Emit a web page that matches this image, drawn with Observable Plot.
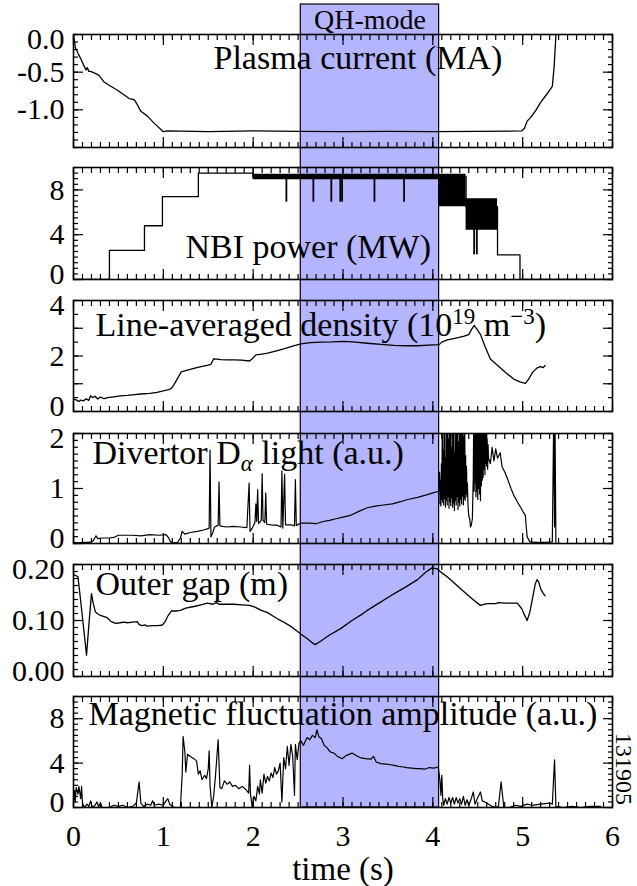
<!DOCTYPE html>
<html><head><meta charset="utf-8">
<script src="https://cdn.jsdelivr.net/npm/d3@7"></script>
<script src="https://cdn.jsdelivr.net/npm/@observablehq/plot@0.6"></script>
<style>
body{margin:0;background:#fff;}
#wrap{position:relative;width:637px;height:886px;}
#wrap svg{position:absolute;left:0;top:0;}
</style></head><body><div id="wrap"></div>
<script>
// ---------------- data ----------------
const qhStart = 2.53, qhEnd = 4.07;
const qhLabel = "QH-mode";
const xMajor = [0,1,2,3,4,5,6];
const xLabel = "time (s)";
const shotNumber = "131905";

const titleIp = [["Plasma current (MA)", ""]];
const titleNbi = [["NBI power (MW)", ""]];
const titleDens = [["Line-averaged density (10", ""], ["19", "sup"], [" m", ""], ["\u22123", "sup"], [")", ""]];
const titleDa = [["Divertor D", ""], ["\u03b1", "sub"], [" light (a.u.)", ""]];
const titleGap = [["Outer gap (m)", ""]];
const titleMag = [["Magnetic fluctuation amplitude (a.u.)", ""]];

const ipLabels = [-1.0, -0.5, 0.0];
const nbiLabels = [0, 4, 8];
const densLabels = [0, 2, 4];
const daLabels = [0, 1, 2];
const gapLabels = [0.0, 0.1, 0.2];
const magLabels = [0, 4, 8];

const plasmaCurrent = [[0,-0.01],[0.01,-0.08],[0.02,-0.17],[0.05,-0.25],[0.08,-0.32],[0.11,-0.40],[0.14,-0.47],[0.155,-0.44],[0.17,-0.49],[0.19,-0.49],[0.23,-0.51],[0.28,-0.54],[0.34,-0.63],[0.42,-0.69],[0.49,-0.74],[0.56,-0.80],[0.62,-0.85],[0.66,-0.86],[0.68,-0.87],[0.70,-0.91],[0.75,-1.02],[0.82,-1.08],[0.90,-1.18],[1.00,-1.29],[1.05,-1.28],[1.5,-1.29],[2.0,-1.28],[2.5,-1.285],[3.0,-1.29],[3.5,-1.285],[4.0,-1.29],[4.5,-1.285],[4.99,-1.28],[5.02,-1.245],[5.05,-1.15],[5.09,-1.10],[5.15,-1.00],[5.20,-0.90],[5.27,-0.79],[5.33,-0.69],[5.35,-0.43],[5.37,-0.01]];

const nbiSteps = [[0,0],[0.40,2.6],[0.79,4.8],[0.99,7.4],[1.39,9.5],[2.0,9.2],[4.07,9.2],[4.37,6.5],[4.72,2.2],[4.97,0],[6.0,0]];
const nbiBand = [[2.0,8.9,9.4],[4.07,6.5,9.4],[4.37,4.4,7.2],[4.72,4.4,7.2]];
const nbiSpikes = [[2.37,6.9,9.0],[2.67,6.9,9.0],[2.87,6.9,9.0],[2.97,6.9,9.0],[2.99,6.9,9.0],[3.35,6.9,9.0],[3.68,6.9,9.0],[4.46,2.2,4.5],[4.49,2.2,4.5]];

const density = [[0,0.45],[0.03,0.42],[0.06,0.36],[0.08,0.41],[0.11,0.38],[0.14,0.46],[0.17,0.40],[0.19,0.57],[0.21,0.50],[0.24,0.55],[0.27,0.45],[0.30,0.52],[0.34,0.46],[0.38,0.50],[0.45,0.53],[0.52,0.56],[0.60,0.58],[0.68,0.61],[0.75,0.63],[0.85,0.65],[0.93,0.69],[1.00,0.74],[1.06,0.79],[1.09,0.83],[1.12,0.98],[1.16,1.20],[1.20,1.43],[1.27,1.49],[1.34,1.55],[1.42,1.62],[1.50,1.67],[1.53,1.70],[1.56,1.90],[1.60,1.89],[1.64,1.87],[1.72,1.86],[1.79,1.86],[1.87,1.85],[1.96,1.82],[1.99,1.90],[2.03,2.04],[2.10,2.07],[2.16,2.10],[2.25,2.18],[2.34,2.26],[2.44,2.36],[2.53,2.44],[2.64,2.48],[2.75,2.50],[2.88,2.51],[3.01,2.53],[3.14,2.50],[3.27,2.46],[3.42,2.42],[3.57,2.38],[3.70,2.37],[3.83,2.37],[3.95,2.39],[4.07,2.41],[4.10,2.50],[4.16,2.58],[4.22,2.62],[4.29,2.67],[4.35,2.72],[4.40,2.77],[4.43,2.95],[4.46,3.10],[4.50,2.92],[4.53,2.78],[4.58,2.35],[4.64,1.89],[4.70,1.72],[4.75,1.58],[4.82,1.38],[4.90,1.17],[4.97,1.07],[5.03,1.01],[5.07,1.18],[5.11,1.41],[5.16,1.57],[5.20,1.62],[5.23,1.58],[5.25,1.66]];

const dalpha = [[0,0.02],[0.05,0.01],[0.12,0.02],[0.18,0.02],[0.22,0.05],[0.25,0.14],[0.27,0.09],[0.32,0.10],[0.40,0.10],[0.45,0.11],[0.50,0.15],[0.56,0.15],[0.65,0.15],[0.75,0.14],[0.85,0.16],[0.95,0.15],[1.03,0.16],[1.06,0.10],[1.08,0.03],[1.12,0.01],[1.16,0.02],[1.19,0.10],[1.21,0.22],[1.24,0.17],[1.30,0.20],[1.38,0.22],[1.46,0.25],[1.51,0.28],[1.52,1.70],[1.53,0.12],[1.55,0.20],[1.57,0.30],[1.61,0.33],[1.62,1.12],[1.63,0.32],[1.70,0.30],[1.78,0.31],[1.86,0.30],[1.93,0.29],[1.955,1.10],[1.965,0.22],[1.99,0.28],[2.02,0.38],[2.03,0.72],[2.04,0.40],[2.05,0.98],[2.06,0.36],[2.09,0.42],[2.10,1.27],[2.11,0.42],[2.13,0.38],[2.14,0.92],[2.15,0.35],[2.20,0.34],[2.27,0.33],[2.31,0.30],[2.32,1.32],[2.33,0.28],[2.35,1.26],[2.36,0.34],[2.42,0.34],[2.46,0.32],[2.47,1.16],[2.48,0.33],[2.53,0.37],[2.62,0.37],[2.70,0.36],[2.78,0.40],[2.85,0.42],[2.92,0.45],[3.00,0.48],[3.08,0.51],[3.17,0.58],[3.27,0.65],[3.36,0.68],[3.45,0.70],[3.55,0.72],[3.64,0.76],[3.72,0.80],[3.83,0.84],[3.92,0.88],[4.00,0.92],
[4.070,0.95],[4.075,1.30],[4.080,0.72],[4.085,1.15],[4.090,0.68],[4.095,1.45],[4.100,0.80],[4.105,2.2],[4.110,0.75],[4.115,1.70],[4.120,0.70],[4.125,2.2],[4.130,0.82],[4.135,2.2],[4.140,0.66],[4.145,1.55],[4.150,0.78],[4.155,2.2],[4.160,0.70],[4.165,2.2],[4.170,0.85],[4.175,1.90],[4.180,0.64],[4.185,2.2],[4.190,0.76],[4.195,2.2],[4.200,0.69],[4.205,1.75],[4.210,0.83],[4.215,2.2],[4.220,0.66],[4.225,2.2],[4.230,0.74],[4.235,2.2],[4.240,0.60],[4.245,1.65],[4.250,0.78],[4.255,2.2],[4.260,0.70],[4.265,2.2],[4.270,0.85],[4.275,2.2],[4.280,0.62],[4.285,1.85],[4.290,0.75],[4.295,2.2],[4.300,0.68],[4.305,2.2],[4.310,0.80],[4.315,2.2],[4.320,0.72],[4.325,2.2],[4.330,0.86],[4.335,2.2],[4.340,0.70],[4.345,1.95],[4.350,0.82],[4.355,2.2],[4.360,0.78],[4.365,1.60],[4.370,0.90],[4.375,1.40],[4.380,0.85],[4.385,1.10],[4.390,0.75],[4.395,0.60],[4.400,0.50],[4.41,0.45],[4.42,0.30],[4.43,0.35],[4.44,0.45],[4.45,1.20],
[4.455,2.2],[4.460,0.95],[4.465,2.2],[4.470,1.10],[4.475,2.2],[4.480,0.85],[4.485,2.2],[4.490,0.95],[4.495,2.2],[4.500,0.80],[4.505,2.2],[4.510,1.00],[4.515,2.2],[4.520,0.90],[4.525,2.2],[4.530,0.78],[4.535,2.2],[4.540,1.05],[4.545,2.2],[4.550,1.15],[4.555,2.2],[4.560,1.20],[4.565,2.2],[4.570,1.35],[4.575,2.2],[4.580,1.25],[4.585,2.1],[4.590,1.45],[4.595,2.2],[4.600,1.40],[4.605,1.90],[4.610,1.35],[4.615,1.80],[4.620,1.55],
[4.64,1.45],[4.66,1.75],[4.68,1.50],[4.70,1.72],[4.72,1.55],[4.75,1.65],[4.77,1.40],[4.80,1.30],[4.83,1.18],[4.87,1.00],[4.90,0.88],[4.94,0.76],[4.98,0.65],[5.01,0.56],[5.03,0.51],[5.04,0.30],[5.05,0.12],[5.08,0.03],[5.15,0.02],[5.25,0.02],[5.33,0.03],[5.345,2.2],[5.355,0.30],[5.36,2.2],[5.37,0.02]];

const outerGap = [[0,0.182],[0.03,0.180],[0.05,0.178],[0.09,0.12],[0.145,0.038],[0.17,0.09],[0.20,0.148],[0.22,0.13],[0.245,0.115],[0.27,0.112],[0.30,0.109],[0.34,0.107],[0.375,0.105],[0.42,0.098],[0.47,0.095],[0.52,0.096],[0.56,0.097],[0.60,0.096],[0.66,0.097],[0.71,0.098],[0.73,0.093],[0.76,0.091],[0.80,0.092],[0.82,0.090],[0.88,0.091],[0.94,0.091],[0.99,0.092],[1.02,0.098],[1.05,0.108],[1.09,0.117],[1.15,0.117],[1.19,0.118],[1.25,0.122],[1.34,0.125],[1.42,0.128],[1.49,0.131],[1.55,0.129],[1.59,0.132],[1.62,0.129],[1.70,0.129],[1.78,0.129],[1.88,0.128],[1.96,0.127],[2.02,0.124],[2.09,0.118],[2.16,0.114],[2.22,0.108],[2.27,0.103],[2.34,0.097],[2.42,0.0895],[2.48,0.082],[2.53,0.076],[2.60,0.068],[2.66,0.060],[2.69,0.057],[2.75,0.063],[2.85,0.074],[2.97,0.085],[3.10,0.100],[3.20,0.110],[3.27,0.118],[3.40,0.131],[3.50,0.141],[3.57,0.148],[3.70,0.160],[3.83,0.173],[3.92,0.186],[3.99,0.194],[4.05,0.192],[4.10,0.185],[4.16,0.178],[4.25,0.165],[4.35,0.151],[4.45,0.137],[4.53,0.127],[4.60,0.130],[4.70,0.130],[4.73,0.132],[4.80,0.131],[4.94,0.131],[4.99,0.121],[5.02,0.110],[5.05,0.100],[5.08,0.115],[5.11,0.140],[5.14,0.165],[5.16,0.173],[5.18,0.168],[5.20,0.157],[5.23,0.148],[5.25,0.144]];

const magnetic = [[0,0.3],[0.01,1.5],[0.02,0.5],[0.03,1.8],[0.05,1.2],[0.06,1.9],[0.08,0.8],[0.09,1.9],[0.10,0.4],[0.12,0.0],[0.15,0.3],[0.17,0.1],[0.19,0.6],[0.21,0.0],[0.24,0.2],[0.26,0.5],[0.28,0.1],[0.30,0.4],[0.32,0.0],[0.40,0.0],[0.45,0.2],[0.50,0.1],[0.55,0.2],[0.60,0.0],[0.66,0.1],[0.70,0.4],[0.73,2.3],[0.75,0.4],[0.78,0.1],[0.82,0.3],[0.86,0.2],[0.88,0.6],[0.90,0.2],[0.95,0.3],[1.00,0.2],[1.03,0.6],[1.05,0.8],[1.07,0.3],[1.12,0.0],[1.19,0.0],[1.21,3.0],[1.22,6.4],[1.24,5.0],[1.25,3.2],[1.27,4.8],[1.30,4.6],[1.34,4.4],[1.37,4.2],[1.39,3.0],[1.41,3.3],[1.43,2.5],[1.46,2.9],[1.48,2.6],[1.50,3.5],[1.51,5.1],[1.52,2.0],[1.54,0.0],[1.56,1.0],[1.58,2.8],[1.61,6.1],[1.63,1.8],[1.65,1.7],[1.68,2.4],[1.71,2.1],[1.74,2.3],[1.77,1.9],[1.80,2.0],[1.84,1.7],[1.88,1.9],[1.92,1.6],[1.95,1.3],[1.96,3.8],[1.97,1.2],[1.99,0.0],[2.01,1.0],[2.03,0.6],[2.05,1.9],[2.07,1.2],[2.08,2.5],[2.10,1.3],[2.12,3.0],[2.14,2.2],[2.16,2.8],[2.18,2.4],[2.20,3.1],[2.22,2.7],[2.24,3.6],[2.26,3.0],[2.28,3.3],[2.30,4.0],[2.32,0.5],[2.34,4.5],[2.36,3.5],[2.38,5.5],[2.40,3.8],[2.42,5.7],[2.44,4.6],[2.46,1.1],[2.47,5.7],[2.49,4.3],[2.51,5.8],[2.53,6.0],[2.56,5.6],[2.60,6.3],[2.63,6.1],[2.66,6.5],[2.69,6.3],[2.71,7.0],[2.73,6.4],[2.76,6.2],[2.79,5.6],[2.82,5.4],[2.86,5.0],[2.90,4.9],[2.94,4.6],[2.99,4.4],[3.04,4.7],[3.10,4.9],[3.14,4.7],[3.19,4.5],[3.25,4.4],[3.31,4.35],[3.34,4.6],[3.37,4.1],[3.42,3.95],[3.48,3.9],[3.53,3.85],[3.57,3.8],[3.62,3.7],[3.67,3.65],[3.71,3.6],[3.76,3.55],[3.82,3.5],[3.86,3.5],[3.91,3.45],[3.96,3.6],[4.01,3.55],[4.06,3.65],[4.08,2.4],[4.09,1.1],[4.10,2.9],[4.11,0.8],[4.12,0.2],[4.14,0.8],[4.16,0.3],[4.18,0.9],[4.20,0.4],[4.22,0.9],[4.24,0.3],[4.26,0.9],[4.28,0.4],[4.30,0.8],[4.32,0.3],[4.34,1.0],[4.36,0.2],[4.38,0.7],[4.40,0.2],[4.42,0.6],[4.45,1.4],[4.47,0.3],[4.50,0.9],[4.53,1.4],[4.55,0.6],[4.58,0.5],[4.62,0.3],[4.66,0.1],[4.70,0.0],[4.73,0.1],[4.76,2.3],[4.79,0.0],[4.85,0.0],[4.92,0.2],[4.98,0.1],[5.05,0.3],[5.10,0.2],[5.20,0.3],[5.30,0.4],[5.33,0.3],[5.355,4.3],[5.37,0.1],[5.45,0.0],[5.55,0.1],[5.65,0.0],[5.75,0.1],[5.87,0.1]];

// ---------------- layout ----------------
const W = 637, H = 886, ML = 73, MR = 25;
const panelTop = [34, 167, 300, 433, 564, 696];
const panelBottom = [147, 279, 411, 543, 676, 807];
const FONT = '"Liberation Serif", "Times New Roman", serif';
const BAND = "#b4b4ff";
const xMinor = d3.range(0, 6.0001, 0.1);
const wrap = document.getElementById("wrap");
const X = d => d[0], Y = d => d[1];

function richText(svg, parts) {
  const plain = parts.map(p => p[0]).join("");
  d3.select(svg).selectAll("text").filter(function(){ return this.textContent === plain; }).each(function(){
    const t = d3.select(this); t.text("");
    let shift = 0;
    for (const [s, kind] of parts) {
      const target = kind === "sup" ? -12 : kind === "sub" ? 7 : 0;
      const span = t.append("tspan").text(s).attr("dy", target - shift);
      if (kind) span.attr("font-size", 23);
      if (kind === "sub") span.attr("font-style", "italic");
      shift = target;
    }
  });
}

// background: QH-mode band
const bg = Plot.plot({
  width: W, height: H, marginLeft: ML, marginRight: MR, marginTop: 4, marginBottom: H - panelBottom[5],
  x: {domain: [0, 6], axis: null}, y: {domain: [0, 1], axis: null},
  style: {fontFamily: FONT, background: "transparent", overflow: "visible"},
  marks: [
    Plot.rect([[qhStart, qhEnd]], {x1: d => d[0], x2: d => d[1], fill: BAND, stroke: "black", strokeWidth: 1.2}),
    Plot.text([qhLabel], {x: () => (qhStart + qhEnd) / 2, text: d => d, frameAnchor: "top", lineAnchor: "middle", dy: 16, fontSize: 28, fill: "black"})
  ]
});
wrap.appendChild(bg);

function panel(i, cfg) {
  const [lo, hi] = cfg.domain;
  const minors = d3.range(lo, hi + cfg.minorStep / 2, cfg.minorStep);
  const tk = {fill: "none", label: null, strokeWidth: 1.2};
  const lab = {tickSize: 0, tickPadding: 9, fontSize: 30, label: null, tickFormat: cfg.fmt, anchor: "left"};
  const eps = (hi - lo) * 1e-6;
  const marks = [
    Plot.axisX(xMinor, {anchor: "bottom", tickSize: -5, ...tk}),
    Plot.axisX(xMajor, {anchor: "bottom", tickSize: -10, ...tk}),
    Plot.axisX(xMinor, {anchor: "top", tickSize: -5, ...tk}),
    Plot.axisX(xMajor, {anchor: "top", tickSize: -10, ...tk}),
    Plot.axisY(minors, {anchor: "left", tickSize: -5, ...tk}),
    Plot.axisY(cfg.majors, {anchor: "left", tickSize: -10, ...tk}),
    Plot.axisY(minors, {anchor: "right", tickSize: -5, ...tk}),
    Plot.axisY(cfg.majors, {anchor: "right", tickSize: -10, ...tk}),
    Plot.axisY(cfg.labels.filter(v => Math.abs(v - hi) < eps), {...lab, dy: 5}),
    Plot.axisY(cfg.labels.filter(v => Math.abs(v - lo) < eps), {...lab, dy: -5}),
    Plot.axisY(cfg.labels.filter(v => Math.abs(v - hi) >= eps && Math.abs(v - lo) >= eps), lab),
    ...cfg.marks,
    Plot.frame({stroke: "black", strokeWidth: 1.6}),
    Plot.text([cfg.title.map(p => p[0]).join("")], {text: d => d, frameAnchor: "top-left", textAnchor: "start", lineAnchor: "middle", dx: cfg.tdx, dy: cfg.tdy, fontSize: 34, fill: "black"}),
    ...(cfg.extra || [])
  ];
  const svg = Plot.plot({
    width: W, height: H, marginLeft: ML, marginRight: MR,
    marginTop: panelTop[i], marginBottom: H - panelBottom[i],
    x: {domain: [0, 6], axis: null}, y: {domain: cfg.domain, axis: null},
    style: {fontFamily: FONT, background: "transparent", overflow: "visible", color: "black"},
    marks
  });
  richText(svg, cfg.title);
  wrap.appendChild(svg);
}

const lineOpts = {x: X, y: Y, stroke: "black", strokeWidth: 1.3, clip: true};

panel(0, {domain: [-1.5, 0], majors: [-1.5, -1, -0.5, 0], minorStep: 0.1, labels: ipLabels, fmt: d => d.toFixed(1),
  title: titleIp, tdx: 140, tdy: 24, marks: [Plot.line(plasmaCurrent, lineOpts)]});

panel(1, {domain: [0, 10], majors: [0, 4, 8], minorStep: 0.5, labels: nbiLabels, fmt: d => String(d),
  title: titleNbi, tdx: 112, tdy: 80, marks: [
    Plot.areaY(nbiBand, {x: d => d[0], y1: d => d[1], y2: d => d[2], curve: "step-after", fill: "black"}),
    Plot.line(nbiSteps, {...lineOpts, curve: "step-after"}),
    Plot.ruleX(nbiSpikes, {x: d => d[0], y1: d => d[1], y2: d => d[2], stroke: "black", strokeWidth: 1.8})
  ]});

panel(2, {domain: [0, 4], majors: [0, 1, 2, 3, 4], minorStep: 0.5, labels: densLabels, fmt: d => String(d),
  title: titleDens, tdx: 22, tdy: 25, marks: [Plot.line(density, lineOpts)]});

panel(3, {domain: [0, 2], majors: [0, 1, 2], minorStep: 0.125, labels: daLabels, fmt: d => String(d),
  title: titleDa, tdx: 19, tdy: 20, marks: [Plot.line(dalpha, {...lineOpts, strokeWidth: 1.2})]});

panel(4, {domain: [0, 0.2], majors: [0, 0.1, 0.2], minorStep: 0.0125, labels: gapLabels, fmt: d => d.toFixed(2),
  title: titleGap, tdx: 22, tdy: 20, marks: [Plot.line(outerGap, lineOpts)]});

panel(5, {domain: [0, 10], majors: [0, 4, 8], minorStep: 0.5, labels: magLabels, fmt: d => String(d),
  title: titleMag, tdx: 15, tdy: 18, marks: [Plot.line(magnetic, {...lineOpts, strokeWidth: 1.2})],
  extra: [
    Plot.axisX(xMajor, {anchor: "bottom", tickSize: 0, tickPadding: 17, fontSize: 30, label: null, tickFormat: d => String(d)}),
    Plot.text([xLabel], {text: d => d, frameAnchor: "bottom", lineAnchor: "middle", dy: 62, fontSize: 33, fill: "black"}),
    Plot.text([shotNumber], {text: d => d, frameAnchor: "right", rotate: 90, textAnchor: "middle", lineAnchor: "middle", dx: 11, dy: 17, fontSize: 24, fill: "black"})
  ]});
</script>
</body></html>
